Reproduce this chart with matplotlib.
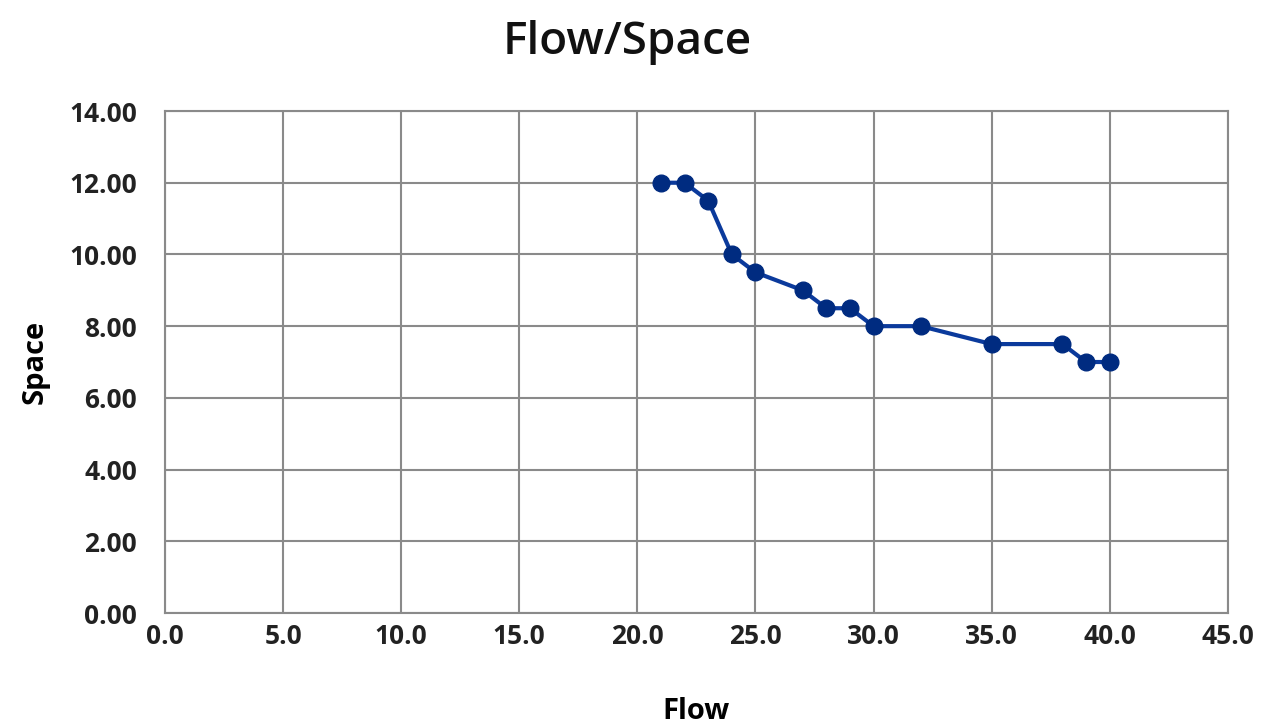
import matplotlib
matplotlib.use("Agg")
import matplotlib.pyplot as plt

flow = [21, 22, 23, 24, 25, 27, 28, 29, 30, 32, 35, 38, 39, 40]
space = [12.0, 12.0, 11.5, 10.0, 9.5, 9.0, 8.5, 8.5, 8.0, 8.0, 7.5, 7.5, 7.0, 7.0]

x_ticks = [0, 5, 10, 15, 20, 25, 30, 35, 40, 45]
y_ticks = [0, 2, 4, 6, 8, 10, 12, 14]

plt.rcParams["font.family"] = ["Open Sans", "DejaVu Sans"]

fig = plt.figure(figsize=(12.75, 7.27), dpi=100)
ax = fig.add_axes([0.1294, 0.1568, 0.8336, 0.6905])

ax.plot(flow, space, color="#0b3a9c", linewidth=3, marker="o",
        markersize=12, markerfacecolor="#002b80", markeredgecolor="#002b80",
        zorder=3)

ax.set_xlim(0, 45)
ax.set_ylim(0, 14)
ax.set_xticks(x_ticks)
ax.set_yticks(y_ticks)
ax.set_xticklabels([f"{v:.1f}" for v in x_ticks], fontsize=19, fontweight="bold")
ax.set_yticklabels([f"{v:.2f}" for v in y_ticks], fontsize=19, fontweight="bold")
ax.tick_params(axis="x", length=0, pad=7, colors="#222222")
ax.tick_params(axis="y", length=0, pad=20, colors="#222222")

ax.grid(True, color="#8a8a8a", linewidth=1.5)
for s in ax.spines.values():
    s.set_color("#8a8a8a")
    s.set_linewidth(1.5)

fig.text(0.492, 0.942, "Flow/Space", fontsize=33, fontweight="semibold",
         color="#111111", ha="center", va="center")
ax.set_xlabel("Flow", fontsize=21, fontweight="bold", labelpad=34)
ax.set_ylabel("Space", fontsize=21, fontweight="bold", labelpad=14)

fig.savefig("out.png", dpi=100)
